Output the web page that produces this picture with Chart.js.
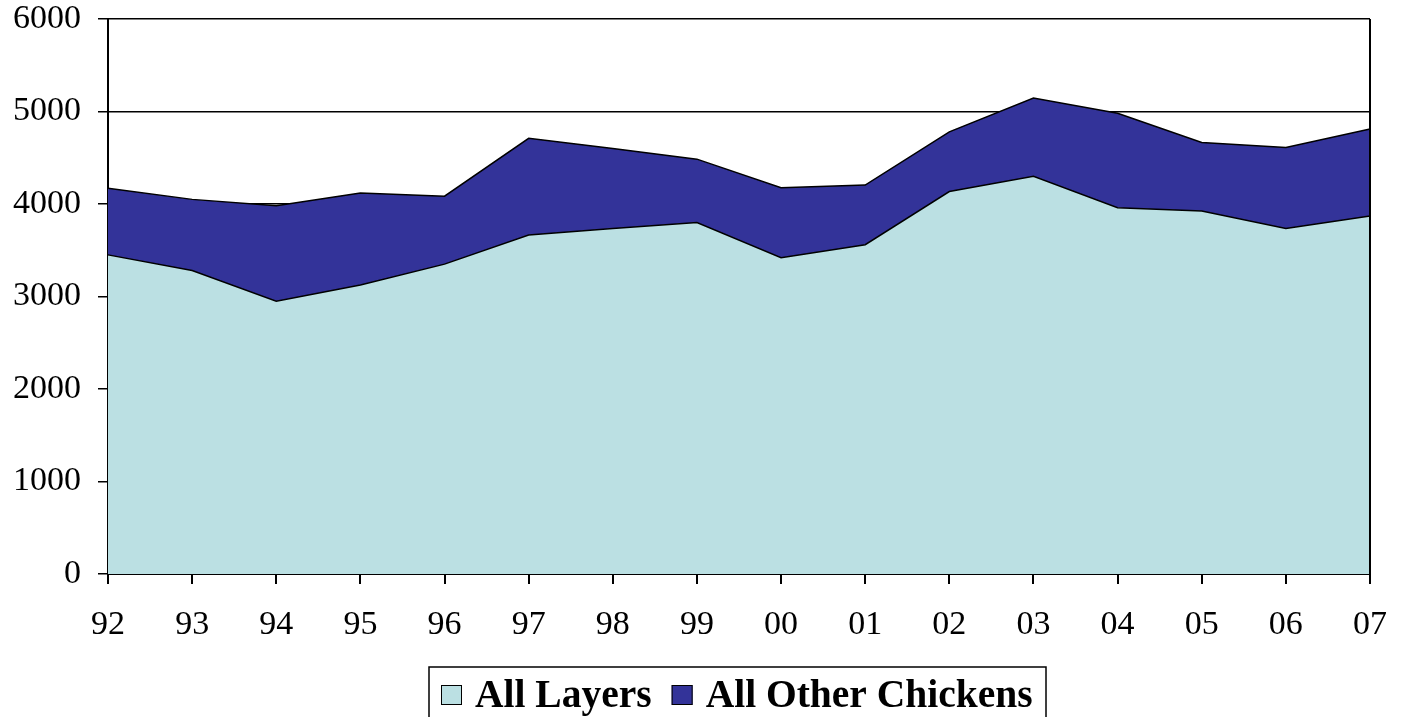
<!DOCTYPE html>
<html>
<head>
<meta charset="utf-8">
<script src="https://cdn.jsdelivr.net/npm/chart.js@4.4.1/dist/chart.umd.min.js"></script>
<style>
  html, body { margin: 0; padding: 0; background: #fff; }
  #wrap { width: 1402px; height: 717px; }
</style>
</head>
<body>
<div id="wrap"><canvas id="chickenChart" width="1402" height="717"></canvas></div>
<script>
const years = ["92", "93", "94", "95", "96", "97", "98", "99", "00", "01", "02", "03", "04", "05", "06", "07"];
const allLayers = [3450, 3280, 2950, 3125, 3350, 3665, 3735, 3800, 3420, 3560, 4135, 4300, 3960, 3925, 3735, 3870];
const otherChickens = [720, 770, 1030, 995, 735, 1045, 865, 685, 755, 645, 645, 845, 1020, 740, 875, 940];
const yTicks = [0, 1000, 2000, 3000, 4000, 5000, 6000];

const serif = "'Liberation Serif', 'Times New Roman', serif";

// boxed legend under the x axis, drawn by hand
const boxedLegend = {
    id: "boxedLegend",
    afterDraw(chart) {
        const ctx = chart.ctx;
        const left = 429, top = 667, right = 1046;
        ctx.save();
        ctx.strokeStyle = "#000";
        ctx.lineWidth = 1.5;
        ctx.strokeRect(left, top, right - left, 60);

        ctx.font = "bold 39.5px " + serif;
        ctx.textBaseline = "alphabetic";
        let x = left + 12;
        chart.data.datasets.forEach(ds => {
            ctx.fillStyle = ds.backgroundColor;
            ctx.fillRect(x, 685, 21, 20);
            ctx.strokeStyle = "#000";
            ctx.lineWidth = 1;
            ctx.strokeRect(x + 0.5, 685.5, 20, 19);
            ctx.fillStyle = "#000";
            ctx.fillText(ds.label, x + 34, 707);
            x += 34 + ctx.measureText(ds.label).width + 20;
        });
        ctx.restore();
    }
};

// right border of the plot frame
const plotFrame = {
    id: "plotFrame",
    afterDatasetsDraw(chart) {
        const a = chart.chartArea;
        const ctx = chart.ctx;
        ctx.save();
        ctx.strokeStyle = "#000";
        ctx.lineWidth = 2;
        ctx.beginPath();
        ctx.moveTo(a.right, a.top);
        ctx.lineTo(a.right, a.bottom);
        ctx.stroke();
        ctx.restore();
    }
};

new Chart(document.getElementById("chickenChart"), {
    type: "line",
    data: {
        labels: years,
        datasets: [
            {
                label: "All Layers",
                data: allLayers,
                backgroundColor: "#BBE0E3",
                borderColor: "#000",
                borderWidth: 1.5,
                fill: "origin",
                tension: 0,
                pointRadius: 0
            },
            {
                label: "All Other Chickens",
                data: otherChickens,
                backgroundColor: "#333399",
                borderColor: "#000",
                borderWidth: 1.5,
                fill: "-1",
                tension: 0,
                pointRadius: 0
            }
        ]
    },
    options: {
        responsive: false,
        animation: false,
        layout: { padding: { top: 19, right: 32, left: 0, bottom: 0 } },
        plugins: {
            legend: { display: false },
            tooltip: { enabled: false }
        },
        scales: {
            x: {
                offset: false,
                grid: {
                    drawOnChartArea: false,
                    drawTicks: true,
                    tickLength: 10,
                    color: "#000",
                    lineWidth: 2
                },
                border: { display: true, color: "#000", width: 2 },
                ticks: {
                    color: "#000",
                    font: { family: serif, size: 34 },
                    padding: 21,
                    maxRotation: 0,
                    autoSkip: false
                },
                afterFit(scale) {
                    scale.height = 143;
                    scale.paddingLeft = 0;
                    scale.paddingRight = 0;
                }
            },
            y: {
                stacked: true,
                min: 0,
                max: 6000,
                afterBuildTicks(scale) { scale.ticks = yTicks.map(v => ({ value: v })); },
                grid: {
                    drawOnChartArea: true,
                    drawTicks: true,
                    tickLength: 10,
                    color: "#000",
                    lineWidth: 1.5
                },
                border: { display: true, color: "#000", width: 2 },
                ticks: {
                    color: "#000",
                    font: { family: serif, size: 34 },
                    padding: 17,
                    callback: v => String(v)
                },
                afterFit(scale) {
                    scale.width = 108;
                    scale.paddingTop = 0;
                    scale.paddingBottom = 0;
                }
            }
        }
    },
    plugins: [plotFrame, boxedLegend]
});
</script>
</body>
</html>
